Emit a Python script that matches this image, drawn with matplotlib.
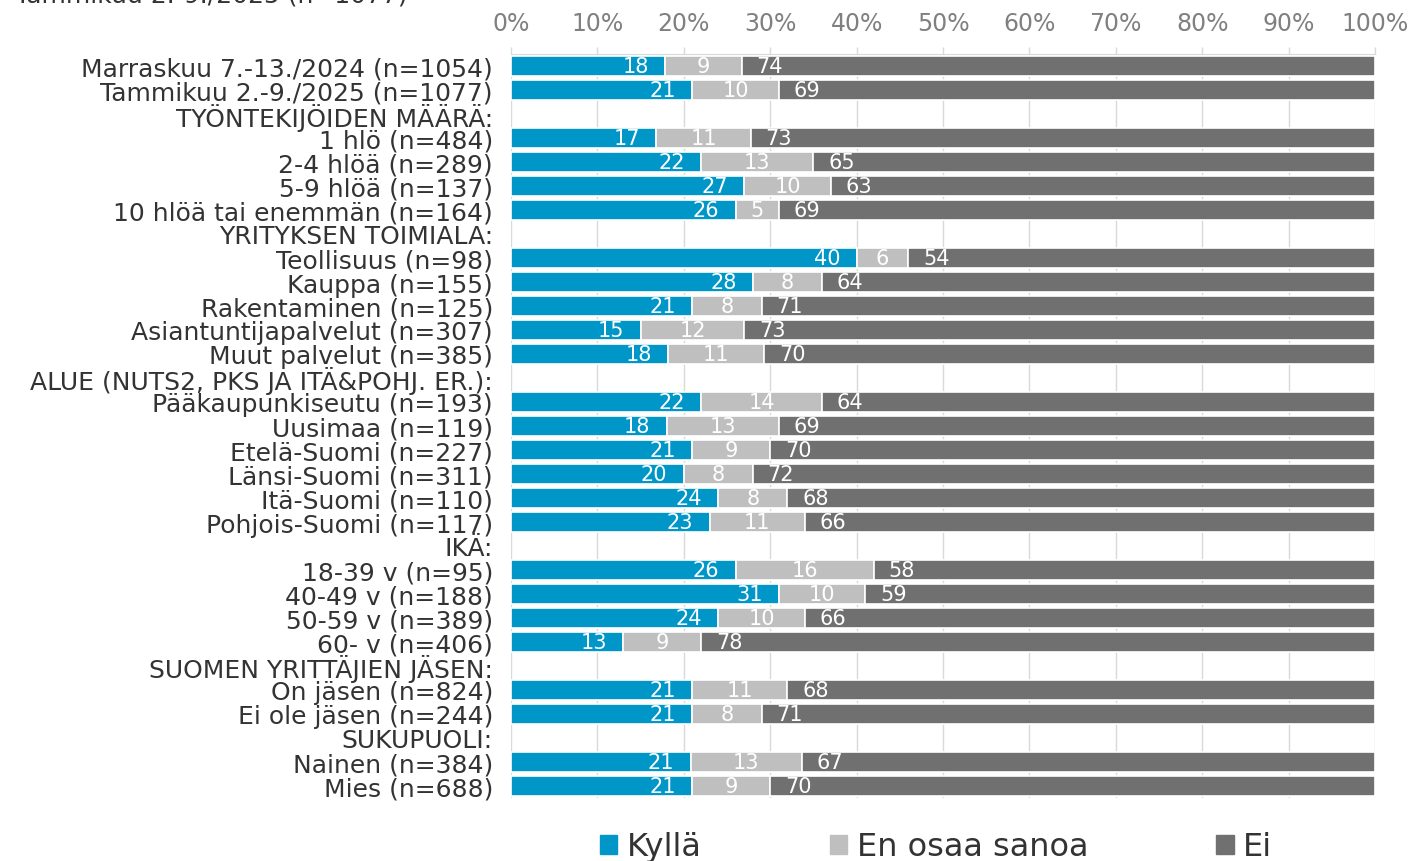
import matplotlib.pyplot as plt
import numpy as np

# Row labels (headers have no bars)
labels = [
    'Marraskuu 7.-13./2024 (n=1054)', 'Tammikuu 2.-9./2025 (n=1077)',
    'TYÖNTEKIJÖIDEN MÄÄRÄ:',
    '1 hlö (n=484)', '2-4 hlöä (n=289)', '5-9 hlöä (n=137)', '10 hlöä tai enemmän (n=164)',
    'YRITYKSEN TOIMIALA:',
    'Teollisuus (n=98)', 'Kauppa (n=155)', 'Rakentaminen (n=125)',
    'Asiantuntijapalvelut (n=307)', 'Muut palvelut (n=385)',
    'ALUE (NUTS2, PKS JA ITÄ&POHJ. ER.):',
    'Pääkaupunkiseutu (n=193)', 'Uusimaa (n=119)', 'Etelä-Suomi (n=227)',
    'Länsi-Suomi (n=311)', 'Itä-Suomi (n=110)', 'Pohjois-Suomi (n=117)',
    'IKÄ:',
    '18-39 v (n=95)', '40-49 v (n=188)', '50-59 v (n=389)', '60- v (n=406)',
    'SUOMEN YRITTÄJIEN JÄSEN:',
    'On jäsen (n=824)', 'Ei ole jäsen (n=244)',
    'SUKUPUOLI:',
    'Nainen (n=384)', 'Mies (n=688)',
]

# None = header row
kylla = [18, 21, None, 17, 22, 27, 26, None, 40, 28, 21, 15, 18, None,
         22, 18, 21, 20, 24, 23, None, 26, 31, 24, 13, None, 21, 21, None, 21, 21]
en_osaa = [9, 10, None, 11, 13, 10, 5, None, 6, 8, 8, 12, 11, None,
           14, 13, 9, 8, 8, 11, None, 16, 10, 10, 9, None, 11, 8, None, 13, 9]
ei = [74, 69, None, 73, 65, 63, 69, None, 54, 64, 71, 73, 70, None,
      64, 69, 70, 72, 68, 66, None, 58, 59, 66, 78, None, 68, 71, None, 67, 70]

series_names = ['Kyllä', 'En osaa sanoa', 'Ei']
colors = ['#0096C8', '#BFBFBF', '#707070']

plt.rcParams['font.family'] = ['DejaVu Sans']
FS = 18

fig = plt.figure(figsize=(14.15, 8.62), dpi=100)
ax = fig.add_axes([511 / 1415, 1 - 799 / 862, 864 / 1415, 744 / 862])

n = len(labels)
y = np.arange(n)
for i in range(n):
    if kylla[i] is None:
        continue
    vals = [kylla[i], en_osaa[i], ei[i]]
    total = sum(vals)
    widths = [v / total * 100 for v in vals]
    left = 0
    for j, (v, w) in enumerate(zip(vals, widths)):
        ax.barh(i, w, left=left, height=0.84, color=colors[j],
                edgecolor='white', linewidth=1.2, zorder=2)
        if j == 0:
            ax.text(left + w - 1.9, i, str(v), ha='right', va='center',
                    color='white', fontsize=15, zorder=3)
        elif j == 1:
            ax.text(left + w / 2, i, str(v), ha='center', va='center',
                    color='white', fontsize=15, zorder=3)
        else:
            ax.text(left + 1.7, i, str(v), ha='left', va='center',
                    color='white', fontsize=15, zorder=3)
        left += w

ax.set_xlim(0, 100)
ax.set_ylim(n - 0.5, -0.5)
ax.set_yticks(y)
ax.set_yticklabels(labels, fontsize=FS, color='#333333')
ax.set_xticks(np.arange(0, 101, 10))
ax.set_xticklabels([f'{t}%' for t in range(0, 101, 10)], fontsize=17,
                   color='#808080')
ax.xaxis.tick_top()
ax.tick_params(axis='x', length=5, width=1, color='#D9D9D9', pad=9)
ax.tick_params(axis='y', length=0, pad=13)
ax.grid(axis='x', color='#D9D9D9', linewidth=1, zorder=0)
for s in ['bottom', 'left', 'right']:
    ax.spines[s].set_visible(False)
ax.spines['top'].set_color('#D9D9D9')

# Cut-off title at the very top
fig.text(15 / 1415, 1 - 3 / 862, 'Tammikuu 2.-9./2025 (n=1077)', fontsize=FS,
         color='#333333', va='baseline')

handles = [plt.Rectangle((0, 0), 1, 1, color=c) for c in colors]
fig.legend(handles, series_names, loc='center', ncol=3,
           bbox_to_anchor=(936 / 1415, 1 - 848 / 862), frameon=False,
           fontsize=23, handlelength=0.55, handleheight=0.55, handletextpad=0.3,
           columnspacing=4.0, labelcolor='#333333')

plt.savefig('out.png', dpi=100)
